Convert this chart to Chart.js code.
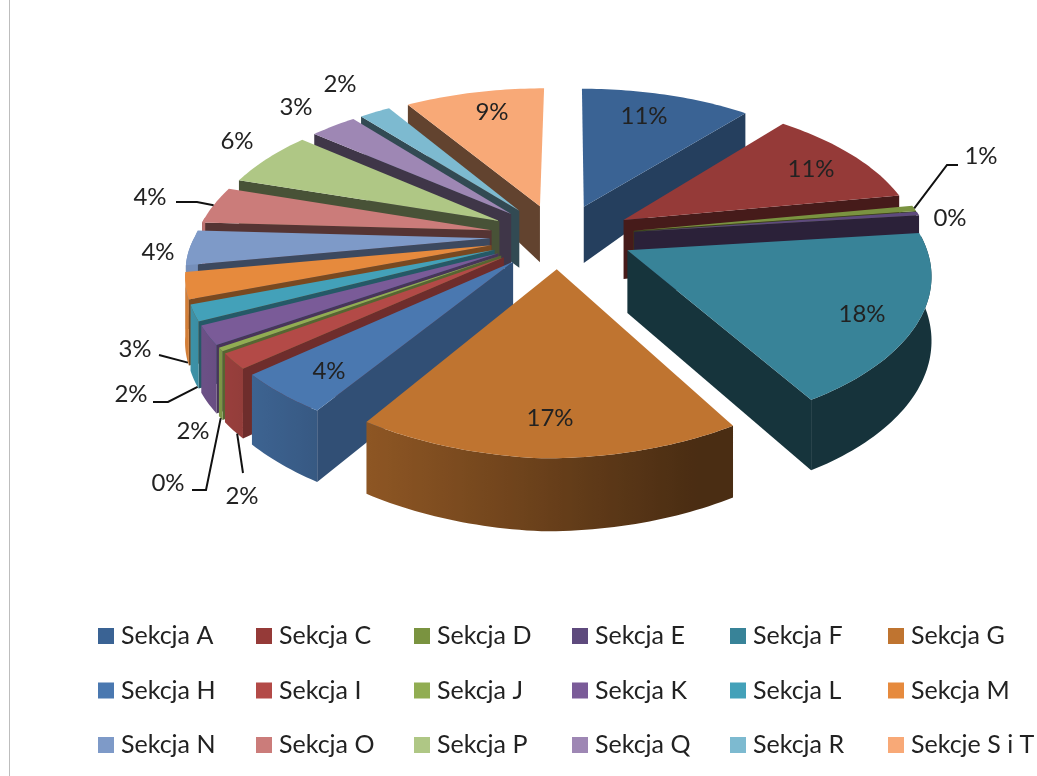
<!DOCTYPE html>
<html>
<head>
<meta charset="utf-8">
<title>Sekcje</title>
<script src="https://cdn.jsdelivr.net/npm/chart.js@4"></script>
<style>
  body { margin: 0; background: #fff; }
  #wrap { position: relative; width: 1037px; height: 776px; overflow: hidden; }
  #rule { position: absolute; left: 9px; top: 0; width: 1px; height: 776px; background: #bdbdbd; }
</style>
</head>
<body>
<div id="wrap">
  <canvas id="pie-chart" width="1037" height="776"></canvas>
  <div id="rule"></div>
</div>
<script>
const categories = ['Sekcja A', 'Sekcja C', 'Sekcja D', 'Sekcja E', 'Sekcja F', 'Sekcja G',
  'Sekcja H', 'Sekcja I', 'Sekcja J', 'Sekcja K', 'Sekcja L', 'Sekcja M',
  'Sekcja N', 'Sekcja O', 'Sekcja P', 'Sekcja Q', 'Sekcja R', 'Sekcje S i T'];
const shares = [11, 11, 0.6, 0.4, 18, 17, 4.4, 1.7, 0.4, 2.1, 1.8, 3, 4, 4, 6, 3, 2, 9];
const colors = ['#3a6394', '#953a38', '#7a9340', '#5e4a7d', '#388398', '#bf7430',
  '#4a78b0', '#b34a47', '#91ad52', '#7a5b98', '#43a1b9', '#e68a3d',
  '#7e9ac8', '#cb7c7a', '#afc785', '#9e87b4', '#7dbad0', '#f8a977'];

// where each percentage sits, centre of the text
const labelSpots = [[644, 116], [811, 169], [981, 156], [950, 218], [862, 314], [550, 418],
  [329, 371], [242, 496], [168, 483], [193, 431], [131, 394], [135, 349],
  [158, 252], [150, 197], [237, 141], [296, 107], [340, 84], [492, 112]];
// leader lines: slice index, position along the rim, how far down the wall, then the elbows
const leaders = [
  { slice: 2, along: 0.5, z: 0, path: [[947, 165], [958, 165]] },
  { slice: 7, along: 0.3, z: 1, path: [[243, 473]] },
  { slice: 8, along: 0.5, z: 1, path: [[206, 490], [192, 490]] },
  { slice: 10, along: 0.1, z: 1, path: [[168, 402], [153, 402]] },
  { slice: 11, along: 0.1, z: 1, path: [[159, 355]] },
  { slice: 13, along: 0.5, z: 0, path: [[197, 202], [176, 202]] }
];

const LABEL_FONT = '24px Lato, "Open Sans", sans-serif';
const LEGEND_FONT = '25px Lato, "Open Sans", sans-serif';

// perspective of the tilted pie, sizes in pixels at hub depth
const hubX = 558, hubY = 236, radX = 295, radY = 146;
const persp = 0.163, explode = 0.22, explodeRight = 77, explodeLeft = 68;

function project(angle, r, mid, z) {
  const cosMid = Math.cos(mid);
  const x = r * Math.cos(angle) * radX + cosMid * (cosMid > 0 ? explodeRight : explodeLeft);
  const v = r * Math.sin(angle) + explode * Math.sin(mid);
  const w = 1 / (1 - persp * v);
  const depth = v < 0 ? Math.max(14, 62 + 28 * v) : 62 + 9 * v;
  const shear = v > 0 ? 10 : 2;
  const sag = 12 * Math.max(0, -x / radX) * Math.max(0, v);
  return [hubX + (x - shear * v) * w, hubY + radY * v * w - sag + z * depth];
}

function shade(hex, f) {
  const n = parseInt(hex.slice(1), 16);
  const c = [n >> 16, (n >> 8) & 255, n & 255].map(x => Math.round(x * f));
  return 'rgb(' + c.join(',') + ')';
}

function fillPoly(ctx, pts, color) {
  ctx.beginPath();
  pts.forEach((p, i) => i ? ctx.lineTo(p[0], p[1]) : ctx.moveTo(p[0], p[1]));
  ctx.closePath();
  ctx.fillStyle = color;
  ctx.fill();
}

function radialFace(ctx, angle, mid, normal, color) {
  if (Math.sin(normal) <= 0) return;
  const nx = Math.cos(normal);
  const f = nx > 0 ? 0.42 + 0.28 * nx : 0.42 + 0.03 * nx;
  fillPoly(ctx, [project(angle, 0, mid, 0), project(angle, 1, mid, 0),
    project(angle, 1, mid, 1), project(angle, 0, mid, 1)], shade(color, f));
}

function rimLight(angle) {
  return Math.min(1, Math.max(0.39, 0.55 - 0.38 * Math.cos(angle)));
}

function drawSlice(ctx, el, color) {
  const a0 = el.startAngle, a1 = el.endAngle, mid = (a0 + a1) / 2;
  const steps = Math.max(2, Math.ceil((a1 - a0) / 0.02));
  radialFace(ctx, a0, mid, a0 - Math.PI / 2, color);
  radialFace(ctx, a1, mid, a1 + Math.PI / 2, color);
  const rim = [];
  for (let i = 0; i <= steps; i++) rim.push(a0 + (a1 - a0) * i / steps);
  // outer wall only on the side facing the viewer
  const front = rim.filter(a => Math.sin(a) > -0.1);
  if (front.length > 1) {
    const top = front.map(a => project(a, 1, mid, 0));
    const bottom = front.map(a => project(a, 1, mid, 1)).reverse();
    const x0 = top[0][0], x1 = top[top.length - 1][0];
    const grad = ctx.createLinearGradient(x0, 0, x1, 0);
    front.forEach((a, i) => grad.addColorStop(i / (front.length - 1), shade(color, rimLight(a))));
    fillPoly(ctx, top.concat(bottom), grad);
  }
  fillPoly(ctx, [project(a0, 0, mid, 0)].concat(rim.map(a => project(a, 1, mid, 0))), color);
}

const pie3d = {
  id: 'pie3d',
  beforeDatasetsDraw(chart) {
    const ctx = chart.ctx;
    const arcs = chart.getDatasetMeta(0).data;
    const order = arcs.map((el, i) => i).sort((p, q) =>
      Math.sin((arcs[p].startAngle + arcs[p].endAngle) / 2) -
      Math.sin((arcs[q].startAngle + arcs[q].endAngle) / 2));
    ctx.save();
    order.forEach(i => drawSlice(ctx, arcs[i], colors[i]));
    ctx.restore();
    return false;
  },
  afterDraw(chart) {
    const ctx = chart.ctx;
    const arcs = chart.getDatasetMeta(0).data;
    ctx.save();
    ctx.strokeStyle = '#111';
    ctx.lineWidth = 2;
    leaders.forEach(l => {
      const el = arcs[l.slice], mid = (el.startAngle + el.endAngle) / 2;
      const a = el.startAngle + (el.endAngle - el.startAngle) * l.along;
      const start = project(a, 1, mid, l.z);
      ctx.beginPath();
      ctx.moveTo(start[0], start[1]);
      l.path.forEach(p => ctx.lineTo(p[0], p[1]));
      ctx.stroke();
    });
    ctx.font = LABEL_FONT;
    ctx.fillStyle = '#222';
    ctx.textAlign = 'center';
    ctx.textBaseline = 'middle';
    shares.forEach((v, i) => ctx.fillText(Math.round(v) + '%', labelSpots[i][0], labelSpots[i][1]));
    // legend grid, three rows of six
    ctx.font = LEGEND_FONT;
    ctx.textAlign = 'left';
    categories.forEach((name, i) => {
      const x = 98 + 158 * (i % 6), y = 636 + 54.5 * Math.floor(i / 6);
      ctx.fillStyle = colors[i];
      ctx.fillRect(x, y - 8, 16, 16);
      ctx.fillStyle = '#222';
      ctx.fillText(name, x + 23, y);
    });
    ctx.restore();
  }
};

new Chart(document.getElementById('pie-chart').getContext('2d'), {
  type: 'pie',
  data: {
    labels: categories,
    datasets: [{ data: shares, backgroundColor: colors, borderWidth: 0 }]
  },
  options: {
    responsive: false,
    animation: false,
    plugins: { legend: { display: false }, tooltip: { enabled: false } }
  },
  plugins: [pie3d]
});
</script>
</body>
</html>
